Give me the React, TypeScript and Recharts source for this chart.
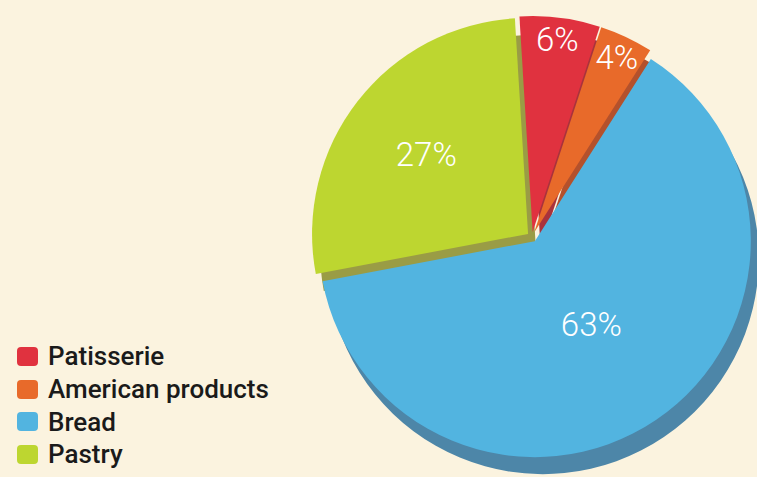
import { PieChart, Pie, Cell, Sector } from "recharts";

const categories = ["Patisserie", "American products", "Bread", "Pastry"];
const shares = [6, 4, 63, 27];

const colors = ["#E0323F", "#E86A2A", "#52B4E0", "#BDD630"];
const sideColors = ["#A9333C", "#B4512C", "#4D86A8", "#9A9C45"];
const labelRadius = [0.92, 0.92, 0.49, 0.62];

const data = categories.map((name, i) => ({ name, value: shares[i] }));

const RAD = Math.PI / 180;
const EXPLODE = 5;

const explodedShape = (props: any) => {
  const { cx, cy, midAngle } = props;
  const dx = EXPLODE * Math.cos(-midAngle * RAD);
  const dy = EXPLODE * Math.sin(-midAngle * RAD);
  return <Sector {...props} cx={cx + dx} cy={cy + dy} stroke="none" />;
};

const renderLabel = ({ cx, cy, midAngle, outerRadius, index, value }: any) => {
  const r = outerRadius * labelRadius[index];
  const x = cx + r * Math.cos(-midAngle * RAD);
  const y = cy + r * Math.sin(-midAngle * RAD);
  return (
    <text
      x={x}
      y={y}
      fill="#ffffff"
      textAnchor="middle"
      dominantBaseline="central"
      fontFamily="Roboto, sans-serif"
      fontWeight={300}
      fontSize={33}
    >
      {`${value}%`}
    </text>
  );
};

const LegendBox = () => (
  <div
    style={{
      position: "absolute",
      left: 17,
      top: 340,
      fontFamily: "Roboto, sans-serif",
      fontSize: 26,
      fontWeight: 500,
      color: "#1a1a1a",
    }}
  >
    {categories.map((name, i) => (
      <div
        key={name}
        style={{ display: "flex", alignItems: "center", height: 32.7 }}
      >
        <span
          style={{
            width: 21,
            height: 19,
            borderRadius: 4,
            background: colors[i],
            marginRight: 10,
          }}
        />
        <span>{name}</span>
      </div>
    ))}
  </div>
);

export default function App() {
  const cx = 532;
  const cy = 237;
  const R = 216;
  return (
    <div
      style={{
        position: "absolute",
        left: 0,
        top: 0,
        width: 757,
        height: 477,
        background: "#FBF3DF",
        overflow: "hidden",
      }}
    >
      <PieChart width={757} height={477} margin={{ top: 0, right: 0, bottom: 0, left: 0 }}>
        <Pie
          data={data}
          dataKey="value"
          cx={cx + 8}
          cy={cy + 17}
          outerRadius={R}
          startAngle={93.5}
          endAngle={-266.5}
          isAnimationActive={false}
          shape={explodedShape}
          inactiveShape={explodedShape}
          activeShape={explodedShape}
          stroke="none"
        >
          {data.map((d, i) => (
            <Cell key={d.name} fill={sideColors[i]} />
          ))}
        </Pie>
        <Pie
          data={data}
          dataKey="value"
          cx={cx}
          cy={cy}
          outerRadius={R}
          startAngle={93.5}
          endAngle={-266.5}
          isAnimationActive={false}
          shape={explodedShape}
          inactiveShape={explodedShape}
          activeShape={explodedShape}
          stroke="none"
          label={renderLabel}
          labelLine={false}
        >
          {data.map((d, i) => (
            <Cell key={d.name} fill={colors[i]} />
          ))}
        </Pie>
      </PieChart>
      <LegendBox />
    </div>
  );
}
